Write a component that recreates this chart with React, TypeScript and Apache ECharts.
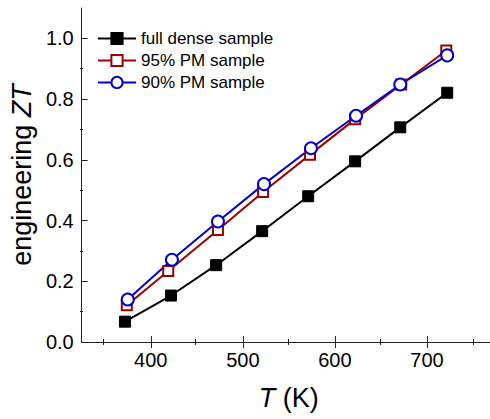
import React, { useEffect, useRef } from "react";
import * as echarts from "echarts";

const seriesNames = ["full dense sample", "95% PM sample", "90% PM sample"];
const tempDense = [372, 422, 471, 521, 571, 622, 671, 722];
const ztDense = [0.067, 0.153, 0.253, 0.365, 0.48, 0.595, 0.707, 0.821];
const temp95 = [374, 419, 473, 522, 573, 622, 672, 721];
const zt95 = [0.121, 0.234, 0.369, 0.494, 0.617, 0.734, 0.848, 0.96];
const temp90 = [375, 423, 473, 523, 574, 623, 671, 722];
const zt90 = [0.14, 0.271, 0.397, 0.52, 0.638, 0.745, 0.848, 0.944];
const xMajorTicks = [400, 500, 600, 700];
const xMinorTicks = [350, 450, 550, 650, 750];
const yMajorTicks = [0, 0.2, 0.4, 0.6, 0.8, 1.0];
const yMinorTicks = [0.1, 0.3, 0.5, 0.7, 0.9];

const FONT = "Liberation Sans";
const AXIS_COLOR = "#222";
const NAME_SIZE = 27;

export default function App() {
  const ref = useRef<HTMLDivElement>(null);
  useEffect(() => {
    if (!ref.current) return;
    const chart = echarts.init(ref.current, null, { renderer: "svg" });
    const gridBox = { left: 80, top: 8, right: 1, bottom: 77 };
    const xBase = (gridIndex: number, position: string, ticks: number[], len: number, labels: boolean) => ({
      type: "value",
      gridIndex,
      position,
      min: 325,
      max: 775,
      axisLine: { show: gridIndex === 0, lineStyle: { color: AXIS_COLOR, width: 1 } },
      axisTick: { show: true, inside: true, length: len, customValues: ticks, lineStyle: { color: AXIS_COLOR, width: 1 } },
      axisLabel: labels
        ? { show: true, customValues: ticks, fontSize: 20, color: "#000", fontFamily: FONT, margin: 8 }
        : { show: false },
      splitLine: { show: false },
    });
    const yBase = (gridIndex: number, position: string, ticks: number[], len: number, labels: boolean) => ({
      type: "value",
      gridIndex,
      position,
      min: 0,
      max: 1.1,
      axisLine: { show: gridIndex === 0, lineStyle: { color: AXIS_COLOR, width: 1 } },
      axisTick: { show: true, inside: true, length: len, customValues: ticks, lineStyle: { color: AXIS_COLOR, width: 1 } },
      axisLabel: labels
        ? {
            show: true,
            customValues: ticks,
            fontSize: 20,
            color: "#000",
            fontFamily: FONT,
            margin: 8,
            formatter: (v: number) => v.toFixed(1),
          }
        : { show: false },
      splitLine: { show: false },
    });

    const nameStyle = {
      fontSize: NAME_SIZE,
      color: "#000",
      fontFamily: FONT,
      rich: { i: { fontStyle: "italic", fontSize: NAME_SIZE, fontFamily: FONT, color: "#000" } },
    };
    const xBottom: any = xBase(0, "bottom", xMajorTicks, 6, true);
    xBottom.name = "{i|T} (K)";
    xBottom.nameLocation = "middle";
    xBottom.nameGap = 42;
    xBottom.nameTextStyle = nameStyle;
    const yLeft: any = yBase(0, "left", yMajorTicks, 6, true);
    yLeft.name = "engineering {i|ZT}";
    yLeft.nameLocation = "middle";
    yLeft.nameGap = 41;
    yLeft.nameTextStyle = nameStyle;

    const mk = (xs: number[], ys: number[]) => xs.map((x, k) => [x, ys[k]]);

    chart.setOption({
      animation: false,
      backgroundColor: "#fff",
      grid: [
        { ...gridBox, containLabel: false },
        { ...gridBox, containLabel: false },
      ],
      xAxis: [
        xBottom,
        xBase(0, "top", xMajorTicks, 6, false),
        xBase(1, "bottom", xMinorTicks, 3, false),
        xBase(1, "top", xMinorTicks, 3, false),
      ],
      yAxis: [
        yLeft,
        yBase(0, "right", yMajorTicks, 6, false),
        yBase(1, "left", yMinorTicks, 3, false),
        yBase(1, "right", yMinorTicks, 3, false),
      ],
      legend: {
        show: true,
        orient: "vertical",
        left: 92,
        top: 25,
        itemWidth: 38,
        itemHeight: 14,
        itemGap: 5,
        data: seriesNames,
        textStyle: { fontSize: 17, color: "#000", fontFamily: FONT, lineHeight: 17 },
      },
      series: [
        {
          name: seriesNames[0],
          type: "line",
          xAxisIndex: 0,
          yAxisIndex: 0,
          data: mk(tempDense, ztDense),
          symbol: "rect",
          symbolSize: 11,
          lineStyle: { color: "#000", width: 2 },
          itemStyle: { color: "#000", borderColor: "#000", borderWidth: 1 },
        },
        {
          name: seriesNames[1],
          type: "line",
          xAxisIndex: 0,
          yAxisIndex: 0,
          data: mk(temp95, zt95),
          symbol: "rect",
          symbolSize: 10,
          lineStyle: { color: "#9b0000", width: 2 },
          itemStyle: { color: "#fff", borderColor: "#9b0000", borderWidth: 2 },
        },
        {
          name: seriesNames[2],
          type: "line",
          xAxisIndex: 0,
          yAxisIndex: 0,
          data: mk(temp90, zt90),
          symbol: "circle",
          symbolSize: 12,
          lineStyle: { color: "#0000c8", width: 2 },
          itemStyle: { color: "#fff", borderColor: "#0000c8", borderWidth: 2 },
        },
      ],
    });
    return () => chart.dispose();
  }, []);
  return (
    <div style={{ position: "fixed", left: 0, top: 0, width: 490, height: 419, overflow: "hidden", background: "#fff" }}>
      <div ref={ref} style={{ width: 497, height: 419 }} />
    </div>
  );
}
